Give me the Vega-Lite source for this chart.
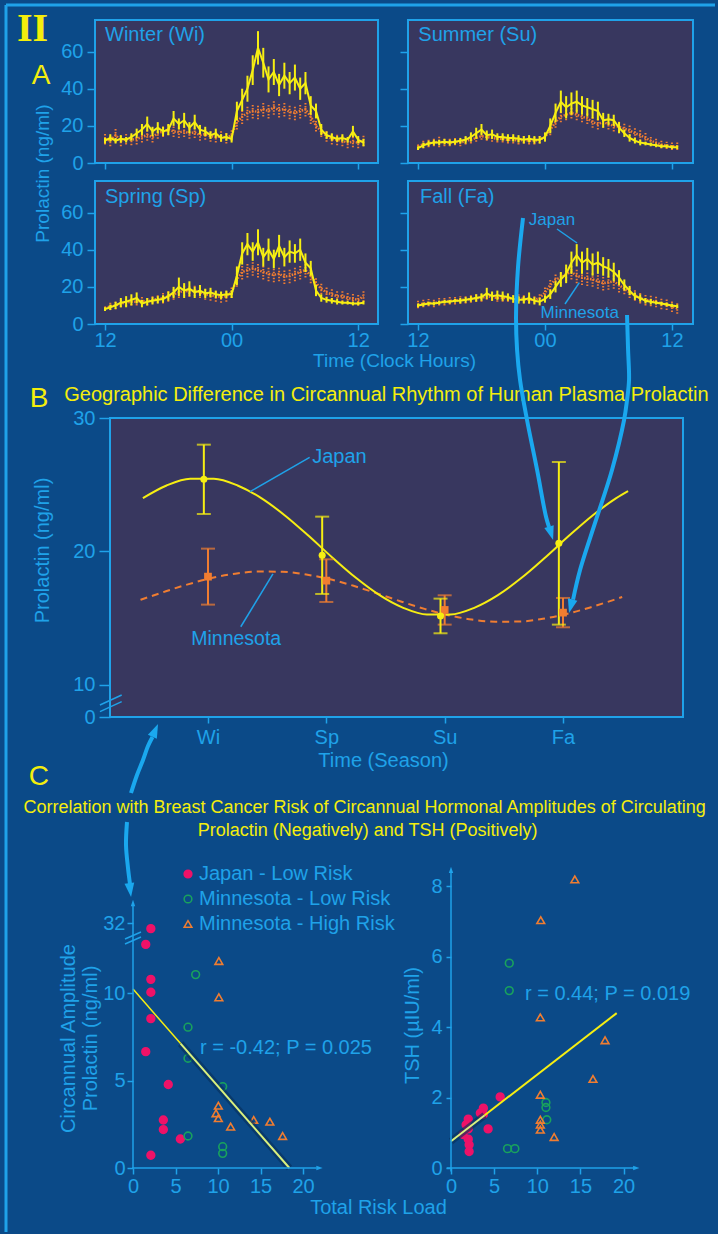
{
  "$schema": "https://vega.github.io/schema/vega-lite/v6.json",
  "background": "#0b4a88",
  "padding": {"left": 3, "top": 2, "right": 0, "bottom": 0},
  "config": {
    "font": "Liberation Sans",
    "view": {"stroke": null},
    "axis": {"domain": false, "grid": false, "tickColor": "#1fa2e9", "tickWidth": 1.5, "labelColor": "#1fa2e9", "titleColor": "#1fa2e9", "labelFontSize": 20, "titleFontSize": 20, "titleFontWeight": "normal", "labelFlush": false, "labelOverlap": false, "titleLimit": 500, "labelFont": "Liberation Sans", "titleFont": "Liberation Sans", "titlePadding": 0},
    "legend": {"labelColor": "#1fa2e9", "labelFontSize": 20, "labelFont": "Liberation Sans", "symbolStrokeWidth": 1.5, "symbolSize": 60, "rowPadding": 5, "labelOffset": 1, "padding": 0, "labelLimit": 0}
  },
  "datasets": {
    "one": [{"i": 0}],
    "none": [],
    "WiJ": [{"t":0,"v":12,"e":1.5},{"t":0.5,"v":13.5,"e":2},{"t":1,"v":12,"e":1.5},{"t":1.5,"v":13,"e":2},{"t":2,"v":12.5,"e":1.5},{"t":2.5,"v":14,"e":2},{"t":3,"v":16,"e":2.5},{"t":3.5,"v":18,"e":3},{"t":4,"v":21,"e":4},{"t":4.5,"v":17,"e":2.5},{"t":5,"v":19,"e":3},{"t":5.5,"v":17,"e":2.5},{"t":6,"v":18,"e":3},{"t":6.5,"v":24,"e":4},{"t":7,"v":21,"e":3},{"t":7.5,"v":23,"e":4},{"t":8,"v":19,"e":3},{"t":8.5,"v":22,"e":4},{"t":9,"v":18,"e":2.5},{"t":9.5,"v":17,"e":2.5},{"t":10,"v":15,"e":2},{"t":10.5,"v":16,"e":2.5},{"t":11,"v":13.5,"e":2},{"t":11.5,"v":14,"e":2},{"t":12,"v":13,"e":2},{"t":12.5,"v":28,"e":5},{"t":13,"v":34,"e":6},{"t":13.5,"v":40,"e":7},{"t":14,"v":50,"e":8},{"t":14.5,"v":62,"e":9},{"t":15,"v":54,"e":8},{"t":15.5,"v":45,"e":7},{"t":16,"v":49,"e":7},{"t":16.5,"v":42,"e":6},{"t":17,"v":47,"e":7},{"t":17.5,"v":43,"e":6},{"t":18,"v":46,"e":7},{"t":18.5,"v":40,"e":6},{"t":19,"v":43,"e":6},{"t":19.5,"v":31,"e":5},{"t":20,"v":28,"e":4},{"t":20.5,"v":18,"e":3},{"t":21,"v":15,"e":2},{"t":21.5,"v":14,"e":2},{"t":22,"v":13,"e":1.5},{"t":22.5,"v":13.5,"e":2},{"t":23,"v":12.5,"e":1.5},{"t":23.5,"v":17,"e":3},{"t":24,"v":12.5,"e":2},{"t":24.5,"v":11,"e":2}],
    "WiM": [{"t":0,"v":13,"e":3},{"t":0.5,"v":12,"e":3},{"t":1,"v":15,"e":4},{"t":1.5,"v":12,"e":3},{"t":2,"v":13,"e":3},{"t":2.5,"v":12.5,"e":3},{"t":3,"v":13,"e":3},{"t":3.5,"v":14,"e":3},{"t":4,"v":15,"e":3},{"t":4.5,"v":14,"e":3},{"t":5,"v":16,"e":3},{"t":5.5,"v":17,"e":3},{"t":6,"v":18,"e":3},{"t":6.5,"v":17,"e":3},{"t":7,"v":16.5,"e":3},{"t":7.5,"v":17,"e":3},{"t":8,"v":16,"e":3},{"t":8.5,"v":16.5,"e":3},{"t":9,"v":15,"e":3},{"t":9.5,"v":15.5,"e":3},{"t":10,"v":14.5,"e":3},{"t":10.5,"v":14,"e":3},{"t":11,"v":14.5,"e":3},{"t":11.5,"v":13.5,"e":3},{"t":12,"v":15,"e":3},{"t":12.5,"v":22,"e":4},{"t":13,"v":25,"e":4},{"t":13.5,"v":27,"e":4},{"t":14,"v":28,"e":4},{"t":14.5,"v":27.5,"e":4},{"t":15,"v":29,"e":4},{"t":15.5,"v":28,"e":4},{"t":16,"v":30,"e":4},{"t":16.5,"v":28.5,"e":4},{"t":17,"v":29,"e":4},{"t":17.5,"v":27.5,"e":4},{"t":18,"v":27,"e":4},{"t":18.5,"v":28,"e":4},{"t":19,"v":29,"e":4},{"t":19.5,"v":25,"e":4},{"t":20,"v":20,"e":3},{"t":20.5,"v":17,"e":3},{"t":21,"v":14.5,"e":3},{"t":21.5,"v":13,"e":3},{"t":22,"v":12.5,"e":3},{"t":22.5,"v":12,"e":3},{"t":23,"v":11,"e":3},{"t":23.5,"v":11.5,"e":3},{"t":24,"v":11,"e":3},{"t":24.5,"v":12,"e":3}],
    "SpJ": [{"t":0,"v":8,"e":1},{"t":0.5,"v":9,"e":1.5},{"t":1,"v":10,"e":2},{"t":1.5,"v":11.5,"e":2.5},{"t":2,"v":12,"e":3},{"t":2.5,"v":13,"e":3},{"t":3,"v":14,"e":3},{"t":3.5,"v":11,"e":2},{"t":4,"v":12,"e":2},{"t":4.5,"v":12.5,"e":2},{"t":5,"v":13,"e":2},{"t":5.5,"v":13.5,"e":2},{"t":6,"v":15,"e":2.5},{"t":6.5,"v":17,"e":3},{"t":7,"v":20,"e":5},{"t":7.5,"v":18,"e":4},{"t":8,"v":19,"e":4},{"t":8.5,"v":17,"e":3},{"t":9,"v":18,"e":3},{"t":9.5,"v":16.5,"e":2.5},{"t":10,"v":17,"e":2.5},{"t":10.5,"v":16,"e":2},{"t":11,"v":15.5,"e":2},{"t":11.5,"v":16,"e":2},{"t":12,"v":16,"e":2},{"t":12.5,"v":26,"e":5},{"t":13,"v":38,"e":6},{"t":13.5,"v":43,"e":6},{"t":14,"v":39,"e":5},{"t":14.5,"v":44,"e":7},{"t":15,"v":36,"e":5},{"t":15.5,"v":40,"e":6},{"t":16,"v":35,"e":5},{"t":16.5,"v":42,"e":6},{"t":17,"v":36,"e":5},{"t":17.5,"v":39,"e":6},{"t":18,"v":38,"e":5},{"t":18.5,"v":40,"e":6},{"t":19,"v":33,"e":5},{"t":19.5,"v":30,"e":4},{"t":20,"v":18,"e":3},{"t":20.5,"v":14,"e":2},{"t":21,"v":13,"e":1.5},{"t":21.5,"v":12.5,"e":1.5},{"t":22,"v":12,"e":1.5},{"t":22.5,"v":11.5,"e":1},{"t":23,"v":11.5,"e":1},{"t":23.5,"v":11,"e":1},{"t":24,"v":11,"e":1},{"t":24.5,"v":11.5,"e":1}],
    "SpM": [{"t":0,"v":8.5,"e":1.5},{"t":0.5,"v":9.5,"e":2},{"t":1,"v":10,"e":2},{"t":1.5,"v":11,"e":2},{"t":2,"v":11.5,"e":2},{"t":2.5,"v":12,"e":2},{"t":3,"v":12,"e":2},{"t":3.5,"v":12.5,"e":2},{"t":4,"v":12,"e":2},{"t":4.5,"v":13,"e":2},{"t":5,"v":13.5,"e":2},{"t":5.5,"v":14,"e":3},{"t":6,"v":15,"e":3},{"t":6.5,"v":16,"e":3},{"t":7,"v":17,"e":3},{"t":7.5,"v":18,"e":3},{"t":8,"v":17.5,"e":3},{"t":8.5,"v":18,"e":3},{"t":9,"v":17,"e":3},{"t":9.5,"v":16,"e":3},{"t":10,"v":15.5,"e":3},{"t":10.5,"v":15,"e":3},{"t":11,"v":14.5,"e":3},{"t":11.5,"v":15,"e":3},{"t":12,"v":17,"e":3},{"t":12.5,"v":24,"e":4},{"t":13,"v":28,"e":4},{"t":13.5,"v":29,"e":4},{"t":14,"v":30,"e":4},{"t":14.5,"v":29,"e":4},{"t":15,"v":28,"e":4},{"t":15.5,"v":27,"e":4},{"t":16,"v":26.5,"e":4},{"t":16.5,"v":27,"e":4},{"t":17,"v":25.5,"e":4},{"t":17.5,"v":26,"e":4},{"t":18,"v":27,"e":4},{"t":18.5,"v":28,"e":4},{"t":19,"v":29,"e":4},{"t":19.5,"v":26,"e":4},{"t":20,"v":22,"e":3},{"t":20.5,"v":19,"e":3},{"t":21,"v":17,"e":3},{"t":21.5,"v":16,"e":3},{"t":22,"v":15,"e":3},{"t":22.5,"v":15,"e":3},{"t":23,"v":14,"e":3},{"t":23.5,"v":13.5,"e":3},{"t":24,"v":13,"e":3},{"t":24.5,"v":15,"e":3}],
    "SuJ": [{"t":0,"v":8,"e":1},{"t":0.5,"v":9.5,"e":1.5},{"t":1,"v":10.5,"e":1.5},{"t":1.5,"v":11,"e":1.5},{"t":2,"v":11,"e":1.5},{"t":2.5,"v":11.5,"e":1.5},{"t":3,"v":11,"e":1.5},{"t":3.5,"v":11.5,"e":1.5},{"t":4,"v":12,"e":1.5},{"t":4.5,"v":12.5,"e":2},{"t":5,"v":14,"e":2.5},{"t":5.5,"v":16,"e":3},{"t":6,"v":18,"e":3},{"t":6.5,"v":15,"e":2.5},{"t":7,"v":15.5,"e":2.5},{"t":7.5,"v":14,"e":2},{"t":8,"v":14,"e":2},{"t":8.5,"v":13.5,"e":2},{"t":9,"v":13.5,"e":2},{"t":9.5,"v":13,"e":2},{"t":10,"v":12.5,"e":2},{"t":10.5,"v":13,"e":2},{"t":11,"v":12.5,"e":2},{"t":11.5,"v":12.5,"e":2},{"t":12,"v":14,"e":2.5},{"t":12.5,"v":20,"e":4},{"t":13,"v":27,"e":5},{"t":13.5,"v":33,"e":6},{"t":14,"v":30,"e":6},{"t":14.5,"v":32,"e":6},{"t":15,"v":33,"e":6},{"t":15.5,"v":31,"e":5},{"t":16,"v":30,"e":5},{"t":16.5,"v":29,"e":5},{"t":17,"v":28,"e":5},{"t":17.5,"v":23,"e":4},{"t":18,"v":23.5,"e":3},{"t":18.5,"v":23,"e":3},{"t":19,"v":19,"e":3},{"t":19.5,"v":16,"e":2},{"t":20,"v":13.5,"e":2},{"t":20.5,"v":12,"e":1.5},{"t":21,"v":11,"e":1.5},{"t":21.5,"v":10.5,"e":1},{"t":22,"v":10,"e":1},{"t":22.5,"v":9.5,"e":1},{"t":23,"v":9,"e":1},{"t":23.5,"v":9,"e":1},{"t":24,"v":8.5,"e":1},{"t":24.5,"v":8.5,"e":1}],
    "SuM": [{"t":0,"v":9,"e":1.5},{"t":0.5,"v":10,"e":2},{"t":1,"v":10.5,"e":2},{"t":1.5,"v":11,"e":2},{"t":2,"v":11.5,"e":3},{"t":2.5,"v":11,"e":2},{"t":3,"v":11,"e":2},{"t":3.5,"v":11.5,"e":2},{"t":4,"v":11,"e":2},{"t":4.5,"v":12,"e":2},{"t":5,"v":12.5,"e":2},{"t":5.5,"v":13.5,"e":2},{"t":6,"v":14.5,"e":2},{"t":6.5,"v":14,"e":2},{"t":7,"v":13.5,"e":2},{"t":7.5,"v":13,"e":2},{"t":8,"v":13,"e":2},{"t":8.5,"v":12.5,"e":2},{"t":9,"v":12.5,"e":2},{"t":9.5,"v":12,"e":2},{"t":10,"v":12.5,"e":2},{"t":10.5,"v":12,"e":2},{"t":11,"v":12,"e":2},{"t":11.5,"v":12.5,"e":2},{"t":12,"v":14,"e":2},{"t":12.5,"v":18,"e":3},{"t":13,"v":22,"e":3},{"t":13.5,"v":25,"e":3},{"t":14,"v":26,"e":3},{"t":14.5,"v":27,"e":3},{"t":15,"v":26,"e":3},{"t":15.5,"v":25,"e":3},{"t":16,"v":24,"e":3},{"t":16.5,"v":22,"e":3},{"t":17,"v":21,"e":3},{"t":17.5,"v":22,"e":3},{"t":18,"v":21,"e":3},{"t":18.5,"v":20,"e":3},{"t":19,"v":19.5,"e":3},{"t":19.5,"v":18.5,"e":3},{"t":20,"v":17.5,"e":3},{"t":20.5,"v":16,"e":3},{"t":21,"v":15,"e":3},{"t":21.5,"v":13.5,"e":3},{"t":22,"v":12,"e":2},{"t":22.5,"v":11,"e":2},{"t":23,"v":10,"e":2},{"t":23.5,"v":9.5,"e":2},{"t":24,"v":9,"e":2},{"t":24.5,"v":9,"e":2}],
    "FaJ": [{"t":0,"v":10,"e":1},{"t":0.5,"v":10.5,"e":1},{"t":1,"v":11,"e":1},{"t":1.5,"v":11,"e":1},{"t":2,"v":11.5,"e":1},{"t":2.5,"v":12,"e":1},{"t":3,"v":12,"e":1},{"t":3.5,"v":12.5,"e":1},{"t":4,"v":12.5,"e":1.5},{"t":4.5,"v":13,"e":1.5},{"t":5,"v":13.5,"e":1.5},{"t":5.5,"v":14,"e":2},{"t":6,"v":14.5,"e":2},{"t":6.5,"v":16.5,"e":3},{"t":7,"v":15,"e":2.5},{"t":7.5,"v":15.5,"e":2.5},{"t":8,"v":15,"e":2.5},{"t":8.5,"v":14.5,"e":2},{"t":9,"v":13.5,"e":2},{"t":9.5,"v":13,"e":2},{"t":10,"v":13,"e":2},{"t":10.5,"v":14,"e":3},{"t":11,"v":12.5,"e":2},{"t":11.5,"v":12,"e":2},{"t":12,"v":13.5,"e":2},{"t":12.5,"v":16,"e":2.5},{"t":13,"v":20,"e":3},{"t":13.5,"v":24,"e":4},{"t":14,"v":27,"e":5},{"t":14.5,"v":33,"e":6},{"t":15,"v":37,"e":6},{"t":15.5,"v":33,"e":6},{"t":16,"v":35,"e":6},{"t":16.5,"v":32,"e":6},{"t":17,"v":33,"e":6},{"t":17.5,"v":31,"e":5},{"t":18,"v":30,"e":5},{"t":18.5,"v":28,"e":5},{"t":19,"v":25,"e":4},{"t":19.5,"v":21,"e":3},{"t":20,"v":18,"e":2.5},{"t":20.5,"v":15,"e":2},{"t":21,"v":14,"e":2},{"t":21.5,"v":12.5,"e":1.5},{"t":22,"v":12,"e":1.5},{"t":22.5,"v":11.5,"e":1},{"t":23,"v":11,"e":1},{"t":23.5,"v":10.5,"e":1},{"t":24,"v":10,"e":1},{"t":24.5,"v":9.5,"e":1}],
    "FaM": [{"t":0,"v":10.5,"e":2},{"t":0.5,"v":11,"e":2},{"t":1,"v":11.5,"e":2},{"t":1.5,"v":11,"e":2},{"t":2,"v":12,"e":2},{"t":2.5,"v":12,"e":2},{"t":3,"v":12.5,"e":2},{"t":3.5,"v":12.5,"e":2},{"t":4,"v":13,"e":2},{"t":4.5,"v":13,"e":2},{"t":5,"v":13.5,"e":2},{"t":5.5,"v":14,"e":2},{"t":6,"v":14,"e":2},{"t":6.5,"v":15,"e":2},{"t":7,"v":14.5,"e":2},{"t":7.5,"v":14,"e":2},{"t":8,"v":14,"e":2},{"t":8.5,"v":14,"e":2},{"t":9,"v":13.5,"e":2},{"t":9.5,"v":14,"e":2},{"t":10,"v":13.5,"e":2},{"t":10.5,"v":13,"e":2},{"t":11,"v":13,"e":2},{"t":11.5,"v":14,"e":2},{"t":12,"v":17,"e":3},{"t":12.5,"v":21,"e":3},{"t":13,"v":24,"e":3},{"t":13.5,"v":25,"e":3},{"t":14,"v":27,"e":4},{"t":14.5,"v":28,"e":4},{"t":15,"v":26,"e":4},{"t":15.5,"v":25,"e":4},{"t":16,"v":24.5,"e":4},{"t":16.5,"v":24,"e":4},{"t":17,"v":23,"e":4},{"t":17.5,"v":22,"e":4},{"t":18,"v":22.5,"e":4},{"t":18.5,"v":23,"e":4},{"t":19,"v":21,"e":4},{"t":19.5,"v":19,"e":3},{"t":20,"v":17,"e":3},{"t":20.5,"v":15.5,"e":3},{"t":21,"v":14,"e":3},{"t":21.5,"v":13,"e":3},{"t":22,"v":12.5,"e":3},{"t":22.5,"v":12,"e":3},{"t":23,"v":11,"e":3},{"t":23.5,"v":10.5,"e":3},{"t":24,"v":9.5,"e":3},{"t":24.5,"v":8.5,"e":3}],
    "bJ": [{"s":-0.035,"v":25.4,"e":2.6},{"s":0.965,"v":19.7,"e":2.9},{"s":1.965,"v":15.15,"e":1.3},{"s":2.965,"v":20.6,"e":6.1}],
    "bM": [{"s":0,"v":18.1,"e":2.1},{"s":1,"v":17.8,"e":1.6},{"s":2,"v":15.6,"e":1.1},{"s":3,"v":15.4,"e":1.1}],
    "bJc": [{"s":-0.55,"v":23.99},{"s":-0.35,"v":24.94},{"s":-0.15,"v":25.44},{"s":0.05,"v":25.44},{"s":0.25,"v":24.94},{"s":0.45,"v":23.99},{"s":0.65,"v":22.69},{"s":0.85,"v":21.16},{"s":1.05,"v":19.54},{"s":1.25,"v":18.01},{"s":1.45,"v":16.71},{"s":1.65,"v":15.76},{"s":1.85,"v":15.26},{"s":2.05,"v":15.26},{"s":2.25,"v":15.76},{"s":2.45,"v":16.71},{"s":2.65,"v":18.01},{"s":2.85,"v":19.54},{"s":3.05,"v":21.16},{"s":3.25,"v":22.69},{"s":3.45,"v":23.99},{"s":3.55,"v":24.52}],
    "bMc": [{"s":-0.57,"v":16.36},{"s":-0.37,"v":16.96},{"s":-0.17,"v":17.52},{"s":0.03,"v":17.99},{"s":0.23,"v":18.32},{"s":0.43,"v":18.48},{"s":0.63,"v":18.47},{"s":0.83,"v":18.26},{"s":1.03,"v":17.9},{"s":1.23,"v":17.41},{"s":1.43,"v":16.84},{"s":1.63,"v":16.24},{"s":1.83,"v":15.68},{"s":2.03,"v":15.21},{"s":2.23,"v":14.88},{"s":2.43,"v":14.72},{"s":2.63,"v":14.73},{"s":2.83,"v":14.94},{"s":3.03,"v":15.3},{"s":3.23,"v":15.79},{"s":3.43,"v":16.36},{"s":3.5,"v":16.57}],
    "arw": [
      {"a":1,"k":0,"s":2.662,"v":45.0},{"a":1,"k":1,"s":2.62,"v":41.33},{"a":1,"k":2,"s":2.603,"v":37.58},{"a":1,"k":3,"s":2.612,"v":35.1},{"a":1,"k":4,"s":2.637,"v":32.85},{"a":1,"k":5,"s":2.696,"v":29.85},{"a":1,"k":6,"s":2.781,"v":26.1},{"a":1,"k":7,"s":2.857,"v":22.57},{"a":1,"k":8,"s":2.882,"v":21.82},
      {"a":2,"k":0,"s":3.541,"v":37.73},{"a":2,"k":1,"s":3.55,"v":35.1},{"a":2,"k":2,"s":3.558,"v":32.85},{"a":2,"k":3,"s":3.541,"v":31.35},{"a":2,"k":4,"s":3.516,"v":29.85},{"a":2,"k":5,"s":3.414,"v":26.1},{"a":2,"k":6,"s":3.279,"v":22.35},{"a":2,"k":7,"s":3.144,"v":18.6},{"a":2,"k":8,"s":3.085,"v":16.38}
    ],
    "arw2": [
      {"a":3,"k":0,"x":2.294,"y":24.672},{"a":3,"k":1,"x":1.765,"y":24.157},{"a":3,"k":2,"x":1.176,"y":23.355},{"a":3,"k":3,"x":0.471,"y":22.497},{"a":3,"k":4,"x":-0.235,"y":21.466},
      {"a":4,"k":0,"x":-0.706,"y":19.806},{"a":4,"k":1,"x":-0.823,"y":18.489},{"a":4,"k":2,"x":-0.588,"y":17.173},{"a":4,"k":3,"x":-0.353,"y":16.257}
    ],
    "cp": [
      {"g":"Japan - Low Risk","x":2.1,"y":13.7},{"g":"Japan - Low Risk","x":1.5,"y":12.8},{"g":"Japan - Low Risk","x":2.1,"y":10.8},{"g":"Japan - Low Risk","x":2.1,"y":10.06},{"g":"Japan - Low Risk","x":2.1,"y":8.55},{"g":"Japan - Low Risk","x":1.5,"y":6.66},{"g":"Japan - Low Risk","x":4.15,"y":4.78},{"g":"Japan - Low Risk","x":3.57,"y":2.75},{"g":"Japan - Low Risk","x":3.57,"y":2.2},{"g":"Japan - Low Risk","x":5.57,"y":1.66},{"g":"Japan - Low Risk","x":2.1,"y":0.73},
      {"g":"Minnesota - Low Risk","x":7.37,"y":11.07},{"g":"Minnesota - Low Risk","x":6.47,"y":8.06},{"g":"Minnesota - Low Risk","x":6.47,"y":6.28},{"g":"Minnesota - Low Risk","x":10.55,"y":4.66},{"g":"Minnesota - Low Risk","x":6.47,"y":1.83},{"g":"Minnesota - Low Risk","x":10.55,"y":1.22},{"g":"Minnesota - Low Risk","x":10.55,"y":0.84},
      {"g":"Minnesota - High Risk","x":10.1,"y":11.85},{"g":"Minnesota - High Risk","x":10.1,"y":9.77},{"g":"Minnesota - High Risk","x":10.04,"y":3.57},{"g":"Minnesota - High Risk","x":9.77,"y":3.13},{"g":"Minnesota - High Risk","x":10.04,"y":2.85},{"g":"Minnesota - High Risk","x":11.49,"y":2.37},{"g":"Minnesota - High Risk","x":14.2,"y":2.75},{"g":"Minnesota - High Risk","x":16.1,"y":2.65},{"g":"Minnesota - High Risk","x":17.6,"y":1.83}
    ],
    "ct": [
      {"g":"Japan - Low Risk","x":5.7,"y":2.02},{"g":"Japan - Low Risk","x":3.75,"y":1.7},{"g":"Japan - Low Risk","x":3.75,"y":1.52},{"g":"Japan - Low Risk","x":4.3,"y":1.11},{"g":"Japan - Low Risk","x":2.0,"y":1.39},{"g":"Japan - Low Risk","x":1.75,"y":1.23},{"g":"Japan - Low Risk","x":2.0,"y":1.11},{"g":"Japan - Low Risk","x":1.4,"y":0.95},{"g":"Japan - Low Risk","x":2.0,"y":0.82},{"g":"Japan - Low Risk","x":2.1,"y":0.66},{"g":"Japan - Low Risk","x":2.1,"y":0.47},{"g":"Japan - Low Risk","x":3.4,"y":1.56},
      {"g":"Minnesota - Low Risk","x":6.75,"y":5.82},{"g":"Minnesota - Low Risk","x":6.75,"y":5.04},{"g":"Minnesota - Low Risk","x":11.0,"y":1.86},{"g":"Minnesota - Low Risk","x":11.0,"y":1.72},{"g":"Minnesota - Low Risk","x":11.1,"y":1.37},{"g":"Minnesota - Low Risk","x":6.55,"y":0.55},{"g":"Minnesota - Low Risk","x":7.4,"y":0.55},
      {"g":"Minnesota - High Risk","x":14.35,"y":8.2},{"g":"Minnesota - High Risk","x":10.4,"y":7.04},{"g":"Minnesota - High Risk","x":10.35,"y":4.28},{"g":"Minnesota - High Risk","x":17.85,"y":3.63},{"g":"Minnesota - High Risk","x":16.45,"y":2.53},{"g":"Minnesota - High Risk","x":10.35,"y":2.08},{"g":"Minnesota - High Risk","x":10.35,"y":1.37},{"g":"Minnesota - High Risk","x":10.35,"y":1.23},{"g":"Minnesota - High Risk","x":10.35,"y":1.09},{"g":"Minnesota - High Risk","x":11.95,"y":0.88}
    ],
    "rl": [{"x":0,"y":10.24,"p":"a"},{"x":5.6,"y":7.12,"p":"a"},{"x":5.6,"y":7.12,"p":"b"},{"x":18.4,"y":0,"p":"b"}],
    "rr": [{"x":0,"y":0.76,"p":"b"},{"x":3.9,"y":1.5,"p":"b"},{"x":3.9,"y":1.5,"p":"a"},{"x":19.2,"y":4.4,"p":"a"}]
  },
  "spacing": -300,
  "vconcat": [
    {
      "bounds": "flush", "spacing": 30,
      "hconcat": [
        {
          "width": 283, "height": 143,
          "view": {"stroke": "#1fa2e9", "strokeWidth": 2, "fill": "#38375f"},
          "layer": [
            {"data": {"name": "WiM"}, "mark": {"type": "errorbar", "color": "#f07d31", "thickness": 2, "rule": {"strokeDash": [1.5, 1.5]}}, "encoding": {"x": {"field": "t", "type": "quantitative"}, "y": {"field": "v", "type": "quantitative"}, "yError": {"field": "e"}}},
            {"data": {"name": "WiM"}, "mark": {"type": "line", "color": "#f07d31", "strokeWidth": 2.5, "strokeDash": [1.5, 1.5]}, "encoding": {
              "x": {"field": "t", "type": "quantitative", "scale": {"domain": [-0.95, 25.876], "nice": false, "zero": false}, "axis": {"values": [0, 12, 24], "labels": false, "tickSize": 6, "title": null}},
              "y": {"field": "v", "type": "quantitative", "scale": {"domain": [0, 77], "nice": false}, "axis": {"values": [0, 20, 40, 60], "tickSize": 8, "labelPadding": 4, "title": null}}}},
            {"data": {"name": "WiJ"}, "mark": {"type": "errorbar", "color": "#f6ee12", "thickness": 2}, "encoding": {"x": {"field": "t", "type": "quantitative"}, "y": {"field": "v", "type": "quantitative"}, "yError": {"field": "e"}}},
            {"data": {"name": "WiJ"}, "mark": {"type": "line", "color": "#f6ee12", "strokeWidth": 2}, "encoding": {"x": {"field": "t", "type": "quantitative"}, "y": {"field": "v", "type": "quantitative"}}},
            {"data": {"name": "one"}, "mark": {"type": "text", "align": "left", "fontSize": 20, "color": "#1fa2e9"}, "encoding": {"x": {"datum": 0}, "y": {"datum": 68.8}, "text": {"value": "Winter (Wi)"}}},
            {"data": {"name": "one"}, "mark": {"type": "text", "font": "Liberation Serif", "fontWeight": "bold", "fontSize": 40, "color": "#f4ee0c"}, "encoding": {"x": {"datum": -6.875}, "y": {"datum": 72.15}, "text": {"value": "II"}}},
            {"data": {"name": "one"}, "mark": {"type": "text", "fontSize": 28, "color": "#f4ee0c"}, "encoding": {"x": {"datum": -6.069}, "y": {"datum": 46.84}, "text": {"value": "A"}}},
            {"data": {"name": "one"}, "mark": {"type": "rule", "color": "#1fa2e9", "strokeWidth": 3}, "encoding": {"x": {"datum": -9.387}, "x2": {"datum": 57.82}, "y": {"datum": 85.077}}},
            {"data": {"name": "one"}, "mark": {"type": "rule", "color": "#1fa2e9", "strokeWidth": 3}, "encoding": {"x": {"datum": -9.387}, "y": {"datum": 85.077}, "y2": {"datum": -8.077}}}
          ]
        },
        {
          "width": 285, "height": 143,
          "view": {"stroke": "#1fa2e9", "strokeWidth": 2, "fill": "#38375f"},
          "layer": [
            {"data": {"name": "SuM"}, "mark": {"type": "errorbar", "color": "#f07d31", "thickness": 2, "rule": {"strokeDash": [1.5, 1.5]}}, "encoding": {"x": {"field": "t", "type": "quantitative"}, "y": {"field": "v", "type": "quantitative"}, "yError": {"field": "e"}}},
            {"data": {"name": "SuM"}, "mark": {"type": "line", "color": "#f07d31", "strokeWidth": 2.5, "strokeDash": [1.5, 1.5]}, "encoding": {
              "x": {"field": "t", "type": "quantitative", "scale": {"domain": [-0.945, 25.99], "nice": false, "zero": false}, "axis": {"values": [0, 12, 24], "labels": false, "tickSize": 6, "title": null}},
              "y": {"field": "v", "type": "quantitative", "scale": {"domain": [0, 77], "nice": false}, "axis": {"values": [0, 20, 40, 60], "labels": false, "tickSize": 8, "title": null}}}},
            {"data": {"name": "SuJ"}, "mark": {"type": "errorbar", "color": "#f6ee12", "thickness": 2}, "encoding": {"x": {"field": "t", "type": "quantitative"}, "y": {"field": "v", "type": "quantitative"}, "yError": {"field": "e"}}},
            {"data": {"name": "SuJ"}, "mark": {"type": "line", "color": "#f6ee12", "strokeWidth": 2}, "encoding": {"x": {"field": "t", "type": "quantitative"}, "y": {"field": "v", "type": "quantitative"}}},
            {"data": {"name": "one"}, "mark": {"type": "text", "align": "left", "fontSize": 20, "color": "#1fa2e9"}, "encoding": {"x": {"datum": 0.03}, "y": {"datum": 68.8}, "text": {"value": "Summer (Su)"}}}
          ]
        }
      ]
    },
    {
      "bounds": "flush", "spacing": 30,
      "hconcat": [
        {
          "width": 283, "height": 143,
          "view": {"stroke": "#1fa2e9", "strokeWidth": 2, "fill": "#38375f"},
          "layer": [
            {"data": {"name": "SpM"}, "mark": {"type": "errorbar", "color": "#f07d31", "thickness": 2, "rule": {"strokeDash": [1.5, 1.5]}}, "encoding": {"x": {"field": "t", "type": "quantitative"}, "y": {"field": "v", "type": "quantitative", "title": "Prolactin (ng/ml)"}, "yError": {"field": "e"}}},
            {"data": {"name": "SpM"}, "mark": {"type": "line", "color": "#f07d31", "strokeWidth": 2.5, "strokeDash": [1.5, 1.5]}, "encoding": {
              "x": {"field": "t", "type": "quantitative", "scale": {"domain": [-0.95, 25.876], "nice": false, "zero": false}, "axis": {"values": [0, 12, 24], "labelExpr": "datum.value == 12 ? '00' : '12'", "tickSize": 6, "labelPadding": 0, "title": "Time (Clock Hours)", "titleX": 299, "titleY": 36, "titleAlign": "center", "titleBaseline": "middle", "titleFontSize": 19}},
              "y": {"field": "v", "type": "quantitative", "title": "Prolactin (ng/ml)", "scale": {"domain": [0, 77], "nice": false}, "axis": {"values": [0, 20, 40, 60], "tickSize": 8, "labelPadding": 4, "title": "Prolactin (ng/ml)", "titleX": -53, "titleY": -8, "titleAngle": 270, "titleAlign": "center", "titleBaseline": "middle", "titleFontSize": 19}}}},
            {"data": {"name": "SpJ"}, "mark": {"type": "errorbar", "color": "#f6ee12", "thickness": 2}, "encoding": {"x": {"field": "t", "type": "quantitative"}, "y": {"field": "v", "type": "quantitative", "title": "Prolactin (ng/ml)"}, "yError": {"field": "e"}}},
            {"data": {"name": "SpJ"}, "mark": {"type": "line", "color": "#f6ee12", "strokeWidth": 2}, "encoding": {"x": {"field": "t", "type": "quantitative"}, "y": {"field": "v", "type": "quantitative", "title": "Prolactin (ng/ml)"}}},
            {"data": {"name": "one"}, "mark": {"type": "text", "align": "left", "fontSize": 20, "color": "#1fa2e9"}, "encoding": {"x": {"datum": 0}, "y": {"datum": 68.5}, "text": {"value": "Spring (Sp)"}}},
            {"data": {"name": "one"}, "mark": {"type": "rule", "color": "#1fa2e9", "strokeWidth": 3}, "encoding": {"x": {"datum": -9.387}, "y": {"datum": 78.615}, "y2": {"datum": -49.0}}}
          ]
        },
        {
          "width": 285, "height": 143,
          "view": {"stroke": "#1fa2e9", "strokeWidth": 2, "fill": "#38375f"},
          "layer": [
            {"data": {"name": "FaM"}, "mark": {"type": "errorbar", "color": "#f07d31", "thickness": 2, "rule": {"strokeDash": [1.5, 1.5]}}, "encoding": {"x": {"field": "t", "type": "quantitative"}, "y": {"field": "v", "type": "quantitative"}, "yError": {"field": "e"}}},
            {"data": {"name": "FaM"}, "mark": {"type": "line", "color": "#f07d31", "strokeWidth": 2.5, "strokeDash": [1.5, 1.5]}, "encoding": {
              "x": {"field": "t", "type": "quantitative", "scale": {"domain": [-0.945, 25.99], "nice": false, "zero": false}, "axis": {"values": [0, 12, 24], "labelExpr": "datum.value == 12 ? '00' : '12'", "tickSize": 6, "labelPadding": 0, "title": null}},
              "y": {"field": "v", "type": "quantitative", "scale": {"domain": [0, 77], "nice": false}, "axis": {"values": [0, 20, 40, 60], "labels": false, "tickSize": 8, "title": null}}}},
            {"data": {"name": "FaJ"}, "mark": {"type": "errorbar", "color": "#f6ee12", "thickness": 2}, "encoding": {"x": {"field": "t", "type": "quantitative"}, "y": {"field": "v", "type": "quantitative"}, "yError": {"field": "e"}}},
            {"data": {"name": "FaJ"}, "mark": {"type": "line", "color": "#f6ee12", "strokeWidth": 2}, "encoding": {"x": {"field": "t", "type": "quantitative"}, "y": {"field": "v", "type": "quantitative"}}},
            {"data": {"name": "one"}, "mark": {"type": "text", "align": "left", "fontSize": 20, "color": "#1fa2e9"}, "encoding": {"x": {"datum": 0.19}, "y": {"datum": 68.5}, "text": {"value": "Fall (Fa)"}}},
            {"data": {"name": "one"}, "mark": {"type": "text", "fontSize": 17, "color": "#1fa2e9"}, "encoding": {"x": {"datum": 12.666}, "y": {"datum": 56.0}, "text": {"value": "Japan"}}},
            {"data": {"name": "one"}, "mark": {"type": "rule", "color": "#1fa2e9", "strokeWidth": 1.5}, "encoding": {"x": {"datum": 13.138}, "y": {"datum": 51.15}, "x2": {"datum": 15.029}, "y2": {"datum": 43.61}}},
            {"data": {"name": "one"}, "mark": {"type": "text", "fontSize": 17, "color": "#1fa2e9"}, "encoding": {"x": {"datum": 15.284}, "y": {"datum": 5.76}, "text": {"value": "Minnesota"}}},
            {"data": {"name": "one"}, "mark": {"type": "rule", "color": "#1fa2e9", "strokeWidth": 1.5}, "encoding": {"x": {"datum": 13.894}, "y": {"datum": 10.76}, "x2": {"datum": 15.246}, "y2": {"datum": 22.24}}}
          ]
        }
      ]
    },
    {
      "bounds": "flush", "spacing": 10,
      "hconcat": [
        {"width": 5, "height": 299, "data": {"name": "none"}, "mark": "point"},
        {
          "width": 573, "height": 299,
          "view": {"stroke": "#1fa2e9", "strokeWidth": 2, "fill": "#38375f"},
          "layer": [
            {"data": {"name": "bMc"}, "mark": {"type": "line", "color": "#f07d31", "strokeWidth": 2, "strokeDash": [7, 5], "interpolate": "monotone"}, "encoding": {
              "x": {"field": "s", "type": "quantitative", "scale": {"domain": [-0.828, 4.014], "nice": false, "zero": false}, "axis": {"values": [0, 1, 2, 3], "labelExpr": "['Wi','Sp','Su','Fa'][datum.value]", "tickSize": 6, "labelPadding": 4, "title": "Time (Season)", "titleX": 273, "titleY": 43, "titleAlign": "center", "titleBaseline": "middle"}},
              "y": {"field": "v", "type": "quantitative", "title": "Prolactin (ng/ml)", "scale": {"domain": [7.57, 30], "nice": false, "zero": false}, "axis": {"values": [7.57, 10, 20, 30], "labelExpr": "datum.value < 9 ? '0' : datum.label", "tickSize": 11, "labelPadding": 4, "title": "Prolactin (ng/ml)", "titleX": -68, "titleY": 132, "titleAngle": 270, "titleAlign": "center", "titleBaseline": "middle"}}}},
            {"data": {"name": "bJc"}, "mark": {"type": "line", "color": "#f6ee12", "strokeWidth": 2, "interpolate": "monotone"}, "encoding": {"x": {"field": "s", "type": "quantitative"}, "y": {"field": "v", "type": "quantitative", "title": "Prolactin (ng/ml)"}}},
            {"data": {"name": "bM"}, "mark": {"type": "errorbar", "color": "#f07d31", "thickness": 2, "ticks": true, "size": 14}, "encoding": {"x": {"field": "s", "type": "quantitative"}, "y": {"field": "v", "type": "quantitative", "title": "Prolactin (ng/ml)"}, "yError": {"field": "e"}}},
            {"data": {"name": "bJ"}, "mark": {"type": "errorbar", "color": "#f6ee12", "thickness": 2, "ticks": true, "size": 14}, "encoding": {"x": {"field": "s", "type": "quantitative"}, "y": {"field": "v", "type": "quantitative", "title": "Prolactin (ng/ml)"}, "yError": {"field": "e"}}},
            {"data": {"name": "bM"}, "mark": {"type": "square", "color": "#f07d31", "size": 60, "opacity": 1}, "encoding": {"x": {"field": "s", "type": "quantitative"}, "y": {"field": "v", "type": "quantitative", "title": "Prolactin (ng/ml)"}}},
            {"data": {"name": "bJ"}, "mark": {"type": "circle", "color": "#f6ee12", "size": 50, "opacity": 1}, "encoding": {"x": {"field": "s", "type": "quantitative"}, "y": {"field": "v", "type": "quantitative", "title": "Prolactin (ng/ml)"}}},
            {"data": {"name": "one"}, "mark": {"type": "rule", "color": "#1fa2e9", "strokeWidth": 1.5}, "encoding": {"x": {"datum": 0.355}, "y": {"datum": 24.47}, "x2": {"datum": 0.859}, "y2": {"datum": 27.05}}},
            {"data": {"name": "one"}, "mark": {"type": "rule", "color": "#1fa2e9", "strokeWidth": 1.5}, "encoding": {"x": {"datum": 0.277}, "y": {"datum": 14.34}, "x2": {"datum": 0.549}, "y2": {"datum": 18.3}}},
            {"data": {"name": "one"}, "mark": {"type": "text", "fontSize": 20, "color": "#1fa2e9"}, "encoding": {"x": {"datum": 1.111}, "y": {"datum": 27.05}, "text": {"value": "Japan"}}},
            {"data": {"name": "one"}, "mark": {"type": "text", "fontSize": 19.5, "color": "#1fa2e9"}, "encoding": {"x": {"datum": 0.2385}, "y": {"datum": 13.4}, "text": {"value": "Minnesota"}}},
            {"data": {"name": "one"}, "mark": {"type": "rule", "color": "#1fa2e9", "strokeWidth": 1.5}, "encoding": {"x": {"datum": -0.913}, "y": {"datum": 8.47}, "x2": {"datum": -0.729}, "y2": {"datum": 9.22}}},
            {"data": {"name": "one"}, "mark": {"type": "rule", "color": "#1fa2e9", "strokeWidth": 1.5}, "encoding": {"x": {"datum": -0.913}, "y": {"datum": 7.97}, "x2": {"datum": -0.729}, "y2": {"datum": 8.72}}},
            {"data": {"name": "one"}, "mark": {"type": "text", "fontSize": 28, "color": "#f4ee0c"}, "encoding": {"x": {"datum": -1.428}, "y": {"datum": 31.43}, "text": {"value": "B"}}},
            {"data": {"name": "one"}, "mark": {"type": "text", "align": "left", "fontSize": 20, "color": "#f4ee0c"}, "encoding": {"x": {"datum": -1.215}, "y": {"datum": 31.73}, "text": {"value": "Geographic Difference in Circannual Rhythm of Human Plasma Prolactin"}}},
            {"data": {"name": "arw"}, "mark": {"type": "line", "color": "#1aa8ef", "strokeWidth": 4, "interpolate": "catmull-rom"}, "encoding": {"x": {"field": "s", "type": "quantitative"}, "y": {"field": "v", "type": "quantitative", "title": "Prolactin (ng/ml)"}, "detail": {"field": "a"}, "order": {"field": "k", "type": "quantitative"}}},
            {"data": {"name": "one"}, "mark": {"type": "point", "shape": "M0,-1L0.7,1L-0.7,1Z", "filled": true, "opacity": 1, "color": "#1aa8ef", "size": 196, "angle": 163}, "encoding": {"x": {"datum": 2.899}, "y": {"datum": 21.35}}},
            {"data": {"name": "one"}, "mark": {"type": "point", "shape": "M0,-1L0.7,1L-0.7,1Z", "filled": true, "opacity": 1, "color": "#1aa8ef", "size": 196, "angle": 195}, "encoding": {"x": {"datum": 3.066}, "y": {"datum": 15.87}}},
            {"data": {"name": "one"}, "mark": {"type": "rule", "color": "#1fa2e9", "strokeWidth": 3}, "encoding": {"x": {"datum": -1.7068}, "y": {"datum": 30.225}, "y2": {"datum": -3.457}}}
          ]
        }
      ]
    },
    {
      "bounds": "flush", "spacing": 30,
      "hconcat": [
        {"width": 8, "height": 301, "data": {"name": "none"}, "mark": "point"},
        {
          "width": 288, "height": 301,
          "layer": [
            {"data": {"name": "cp"}, "mark": {"type": "point", "size": 60, "strokeWidth": 1.6, "opacity": 1},
             "encoding": {
               "x": {"field": "x", "type": "quantitative", "scale": {"domain": [0, 33.88], "nice": false, "zero": false}, "axis": {"values": [0, 5, 10, 15, 20], "tickSize": 6, "labelPadding": 2, "title": "Total Risk Load", "titleX": 245, "titleY": 39, "titleAlign": "center", "titleBaseline": "middle"}},
               "y": {"field": "y", "type": "quantitative", "scale": {"domain": [0, 17.23], "nice": false, "zero": false}, "axis": {"values": [0, 5, 10, 14], "labelExpr": "datum.value == 14 ? '32' : datum.label", "tickSize": 6, "labelPadding": 2, "title": ["Circannual Amplitude", "Prolactin (ng/ml)"], "titleX": -75, "titleY": 171, "titleAngle": 270, "titleAlign": "center", "titleBaseline": "top", "titleLineHeight": 22}},
               "shape": {"field": "g", "type": "nominal", "scale": {"domain": ["Japan - Low Risk", "Minnesota - Low Risk", "Minnesota - High Risk"], "range": ["circle", "circle", "triangle-up"]}, "legend": {"orient": "none", "legendX": 83, "legendY": 844, "title": null}},
               "fill": {"field": "g", "type": "nominal", "scale": {"domain": ["Japan - Low Risk", "Minnesota - Low Risk", "Minnesota - High Risk"], "range": ["#ee1268", "transparent", "transparent"]}, "legend": {"orient": "none", "legendX": 83, "legendY": 844, "title": null}},
               "stroke": {"field": "g", "type": "nominal", "scale": {"domain": ["Japan - Low Risk", "Minnesota - Low Risk", "Minnesota - High Risk"], "range": ["#ee1268", "#19a25d", "#f07d31"]}, "legend": {"orient": "none", "legendX": 83, "legendY": 844, "title": null}}
             }},
            {"data": {"name": "rl"}, "transform": [{"filter": "datum.p == 'b'"}], "mark": {"type": "line", "color": "#082f5c", "strokeWidth": 7, "opacity": 0.65}, "encoding": {"x": {"field": "x", "type": "quantitative"}, "y": {"field": "y", "type": "quantitative"}}},
            {"data": {"name": "rl"}, "transform": [{"filter": "datum.p == 'b'"}], "mark": {"type": "line", "color": "#d9f07e", "strokeWidth": 2}, "encoding": {"x": {"field": "x", "type": "quantitative"}, "y": {"field": "y", "type": "quantitative"}}},
            {"data": {"name": "rl"}, "transform": [{"filter": "datum.p == 'a'"}], "mark": {"type": "line", "color": "#f6ee12", "strokeWidth": 1.5}, "encoding": {"x": {"field": "x", "type": "quantitative"}, "y": {"field": "y", "type": "quantitative"}}},
            {"data": {"name": "one"}, "mark": {"type": "rule", "color": "#1fa2e9", "strokeWidth": 1.5}, "encoding": {"x": {"datum": -0.1}, "x2": {"datum": 21.6}, "y": {"datum": 0}}},
            {"data": {"name": "one"}, "mark": {"type": "rule", "color": "#1fa2e9", "strokeWidth": 1.5}, "encoding": {"x": {"datum": 0}, "y": {"datum": 0}, "y2": {"datum": 15.0}}},
            {"data": {"name": "one"}, "mark": {"type": "point", "shape": "M0,-1L0.7,1L-0.7,1Z", "filled": true, "opacity": 1, "color": "#1fa2e9", "size": 40, "angle": 90}, "encoding": {"x": {"datum": 21.94}, "y": {"datum": 0}}},
            {"data": {"name": "one"}, "mark": {"type": "point", "shape": "M0,-1L0.7,1L-0.7,1Z", "filled": true, "opacity": 1, "color": "#1fa2e9", "size": 40, "angle": 0}, "encoding": {"x": {"datum": 0}, "y": {"datum": 15.17}}},
            {"data": {"name": "one"}, "mark": {"type": "rule", "color": "#1fa2e9", "strokeWidth": 1.5}, "encoding": {"x": {"datum": -0.94}, "y": {"datum": 12.82}, "x2": {"datum": 0.94}, "y2": {"datum": 13.22}}},
            {"data": {"name": "one"}, "mark": {"type": "rule", "color": "#1fa2e9", "strokeWidth": 1.5}, "encoding": {"x": {"datum": -0.94}, "y": {"datum": 13.11}, "x2": {"datum": 0.94}, "y2": {"datum": 13.51}}},
            {"data": {"name": "one"}, "mark": {"type": "text", "align": "left", "fontSize": 20, "color": "#1fa2e9"}, "encoding": {"x": {"datum": 7.88}, "y": {"datum": 6.87}, "text": {"value": "r = -0.42; P = 0.025"}}},
            {"data": {"name": "arw2"}, "mark": {"type": "line", "color": "#1aa8ef", "strokeWidth": 4, "interpolate": "catmull-rom"}, "encoding": {"x": {"field": "x", "type": "quantitative"}, "y": {"field": "y", "type": "quantitative"}, "detail": {"field": "a"}, "order": {"field": "k", "type": "quantitative"}}},
            {"data": {"name": "one"}, "mark": {"type": "point", "shape": "M0,-1L0.7,1L-0.7,1Z", "filled": true, "opacity": 1, "color": "#1aa8ef", "size": 196, "angle": 24}, "encoding": {"x": {"datum": 2.612}, "y": {"datum": 25.049}}},
            {"data": {"name": "one"}, "mark": {"type": "point", "shape": "M0,-1L0.7,1L-0.7,1Z", "filled": true, "opacity": 1, "color": "#1aa8ef", "size": 196, "angle": 173}, "encoding": {"x": {"datum": -0.329}, "y": {"datum": 15.914}}},
            {"data": {"name": "one"}, "mark": {"type": "text", "fontSize": 28, "color": "#f4ee0c"}, "encoding": {"x": {"datum": -11.06}, "y": {"datum": 22.38}, "text": {"value": "C"}}},
            {"data": {"name": "one"}, "mark": {"type": "text", "fontSize": 18, "color": "#f4ee0c"}, "encoding": {"x": {"datum": 27.24}, "y": {"datum": 20.61}, "text": {"value": "Correlation with Breast Cancer Risk of Circannual Hormonal Amplitudes of Circulating"}}},
            {"data": {"name": "one"}, "mark": {"type": "text", "fontSize": 18, "color": "#f4ee0c"}, "encoding": {"x": {"datum": 27.59}, "y": {"datum": 19.29}, "text": {"value": "Prolactin (Negatively) and TSH (Positively)"}}},
            {"data": {"name": "one"}, "mark": {"type": "rule", "color": "#1fa2e9", "strokeWidth": 3}, "encoding": {"x": {"datum": -14.94}, "y": {"datum": 17.402}, "y2": {"datum": -3.664}}}
          ]
        },
        {
          "width": 189, "height": 301,
          "layer": [
            {"data": {"name": "ct"}, "mark": {"type": "point", "size": 60, "strokeWidth": 1.6, "opacity": 1},
             "encoding": {
               "x": {"field": "x", "type": "quantitative", "scale": {"domain": [0, 21.9], "nice": false, "zero": false}, "axis": {"values": [0, 5, 10, 15, 20], "tickSize": 6, "labelPadding": 2, "title": null}},
               "y": {"field": "y", "type": "quantitative", "scale": {"domain": [0, 8.551], "nice": false, "zero": false}, "axis": {"values": [0, 1, 2, 3, 4, 5, 6, 7, 8], "labelExpr": "datum.value % 2 == 0 ? datum.label : ''", "tickSize": 5, "labelPadding": 4, "title": "TSH (µIU/ml)", "titleX": -39, "titleY": 158, "titleAngle": 270, "titleAlign": "center", "titleBaseline": "middle"}},
               "shape": {"field": "g", "type": "nominal", "scale": {"domain": ["Japan - Low Risk", "Minnesota - Low Risk", "Minnesota - High Risk"], "range": ["circle", "circle", "triangle-up"]}, "legend": null},
               "fill": {"field": "g", "type": "nominal", "scale": {"domain": ["Japan - Low Risk", "Minnesota - Low Risk", "Minnesota - High Risk"], "range": ["#ee1268", "transparent", "transparent"]}, "legend": null},
               "stroke": {"field": "g", "type": "nominal", "scale": {"domain": ["Japan - Low Risk", "Minnesota - Low Risk", "Minnesota - High Risk"], "range": ["#ee1268", "#19a25d", "#f07d31"]}, "legend": null}
             }},
            {"data": {"name": "rr"}, "transform": [{"filter": "datum.p == 'b'"}], "mark": {"type": "line", "color": "#082f5c", "strokeWidth": 7, "opacity": 0.65}, "encoding": {"x": {"field": "x", "type": "quantitative"}, "y": {"field": "y", "type": "quantitative"}}},
            {"data": {"name": "rr"}, "transform": [{"filter": "datum.p == 'b'"}], "mark": {"type": "line", "color": "#d9f07e", "strokeWidth": 2}, "encoding": {"x": {"field": "x", "type": "quantitative"}, "y": {"field": "y", "type": "quantitative"}}},
            {"data": {"name": "rr"}, "transform": [{"filter": "datum.p == 'a'"}], "mark": {"type": "line", "color": "#f6ee12", "strokeWidth": 2}, "encoding": {"x": {"field": "x", "type": "quantitative"}, "y": {"field": "y", "type": "quantitative"}}},
            {"data": {"name": "one"}, "mark": {"type": "rule", "color": "#1fa2e9", "strokeWidth": 1.5}, "encoding": {"x": {"datum": -0.5}, "x2": {"datum": 21.3}, "y": {"datum": 0}}},
            {"data": {"name": "one"}, "mark": {"type": "rule", "color": "#1fa2e9", "strokeWidth": 1.5}, "encoding": {"x": {"datum": 0}, "y": {"datum": -0.1}, "y2": {"datum": 8.4}}},
            {"data": {"name": "one"}, "mark": {"type": "point", "shape": "M0,-1L0.7,1L-0.7,1Z", "filled": true, "opacity": 1, "color": "#1fa2e9", "size": 40, "angle": 90}, "encoding": {"x": {"datum": 21.47}, "y": {"datum": 0}}},
            {"data": {"name": "one"}, "mark": {"type": "point", "shape": "M0,-1L0.7,1L-0.7,1Z", "filled": true, "opacity": 1, "color": "#1fa2e9", "size": 40, "angle": 0}, "encoding": {"x": {"datum": 0}, "y": {"datum": 8.47}}},
            {"data": {"name": "one"}, "mark": {"type": "text", "align": "left", "fontSize": 20, "color": "#1fa2e9"}, "encoding": {"x": {"datum": 8.57}, "y": {"datum": 4.94}, "text": {"value": "r = 0.44; P = 0.019"}}}
          ]
        }
      ]
    }
  ]
}
